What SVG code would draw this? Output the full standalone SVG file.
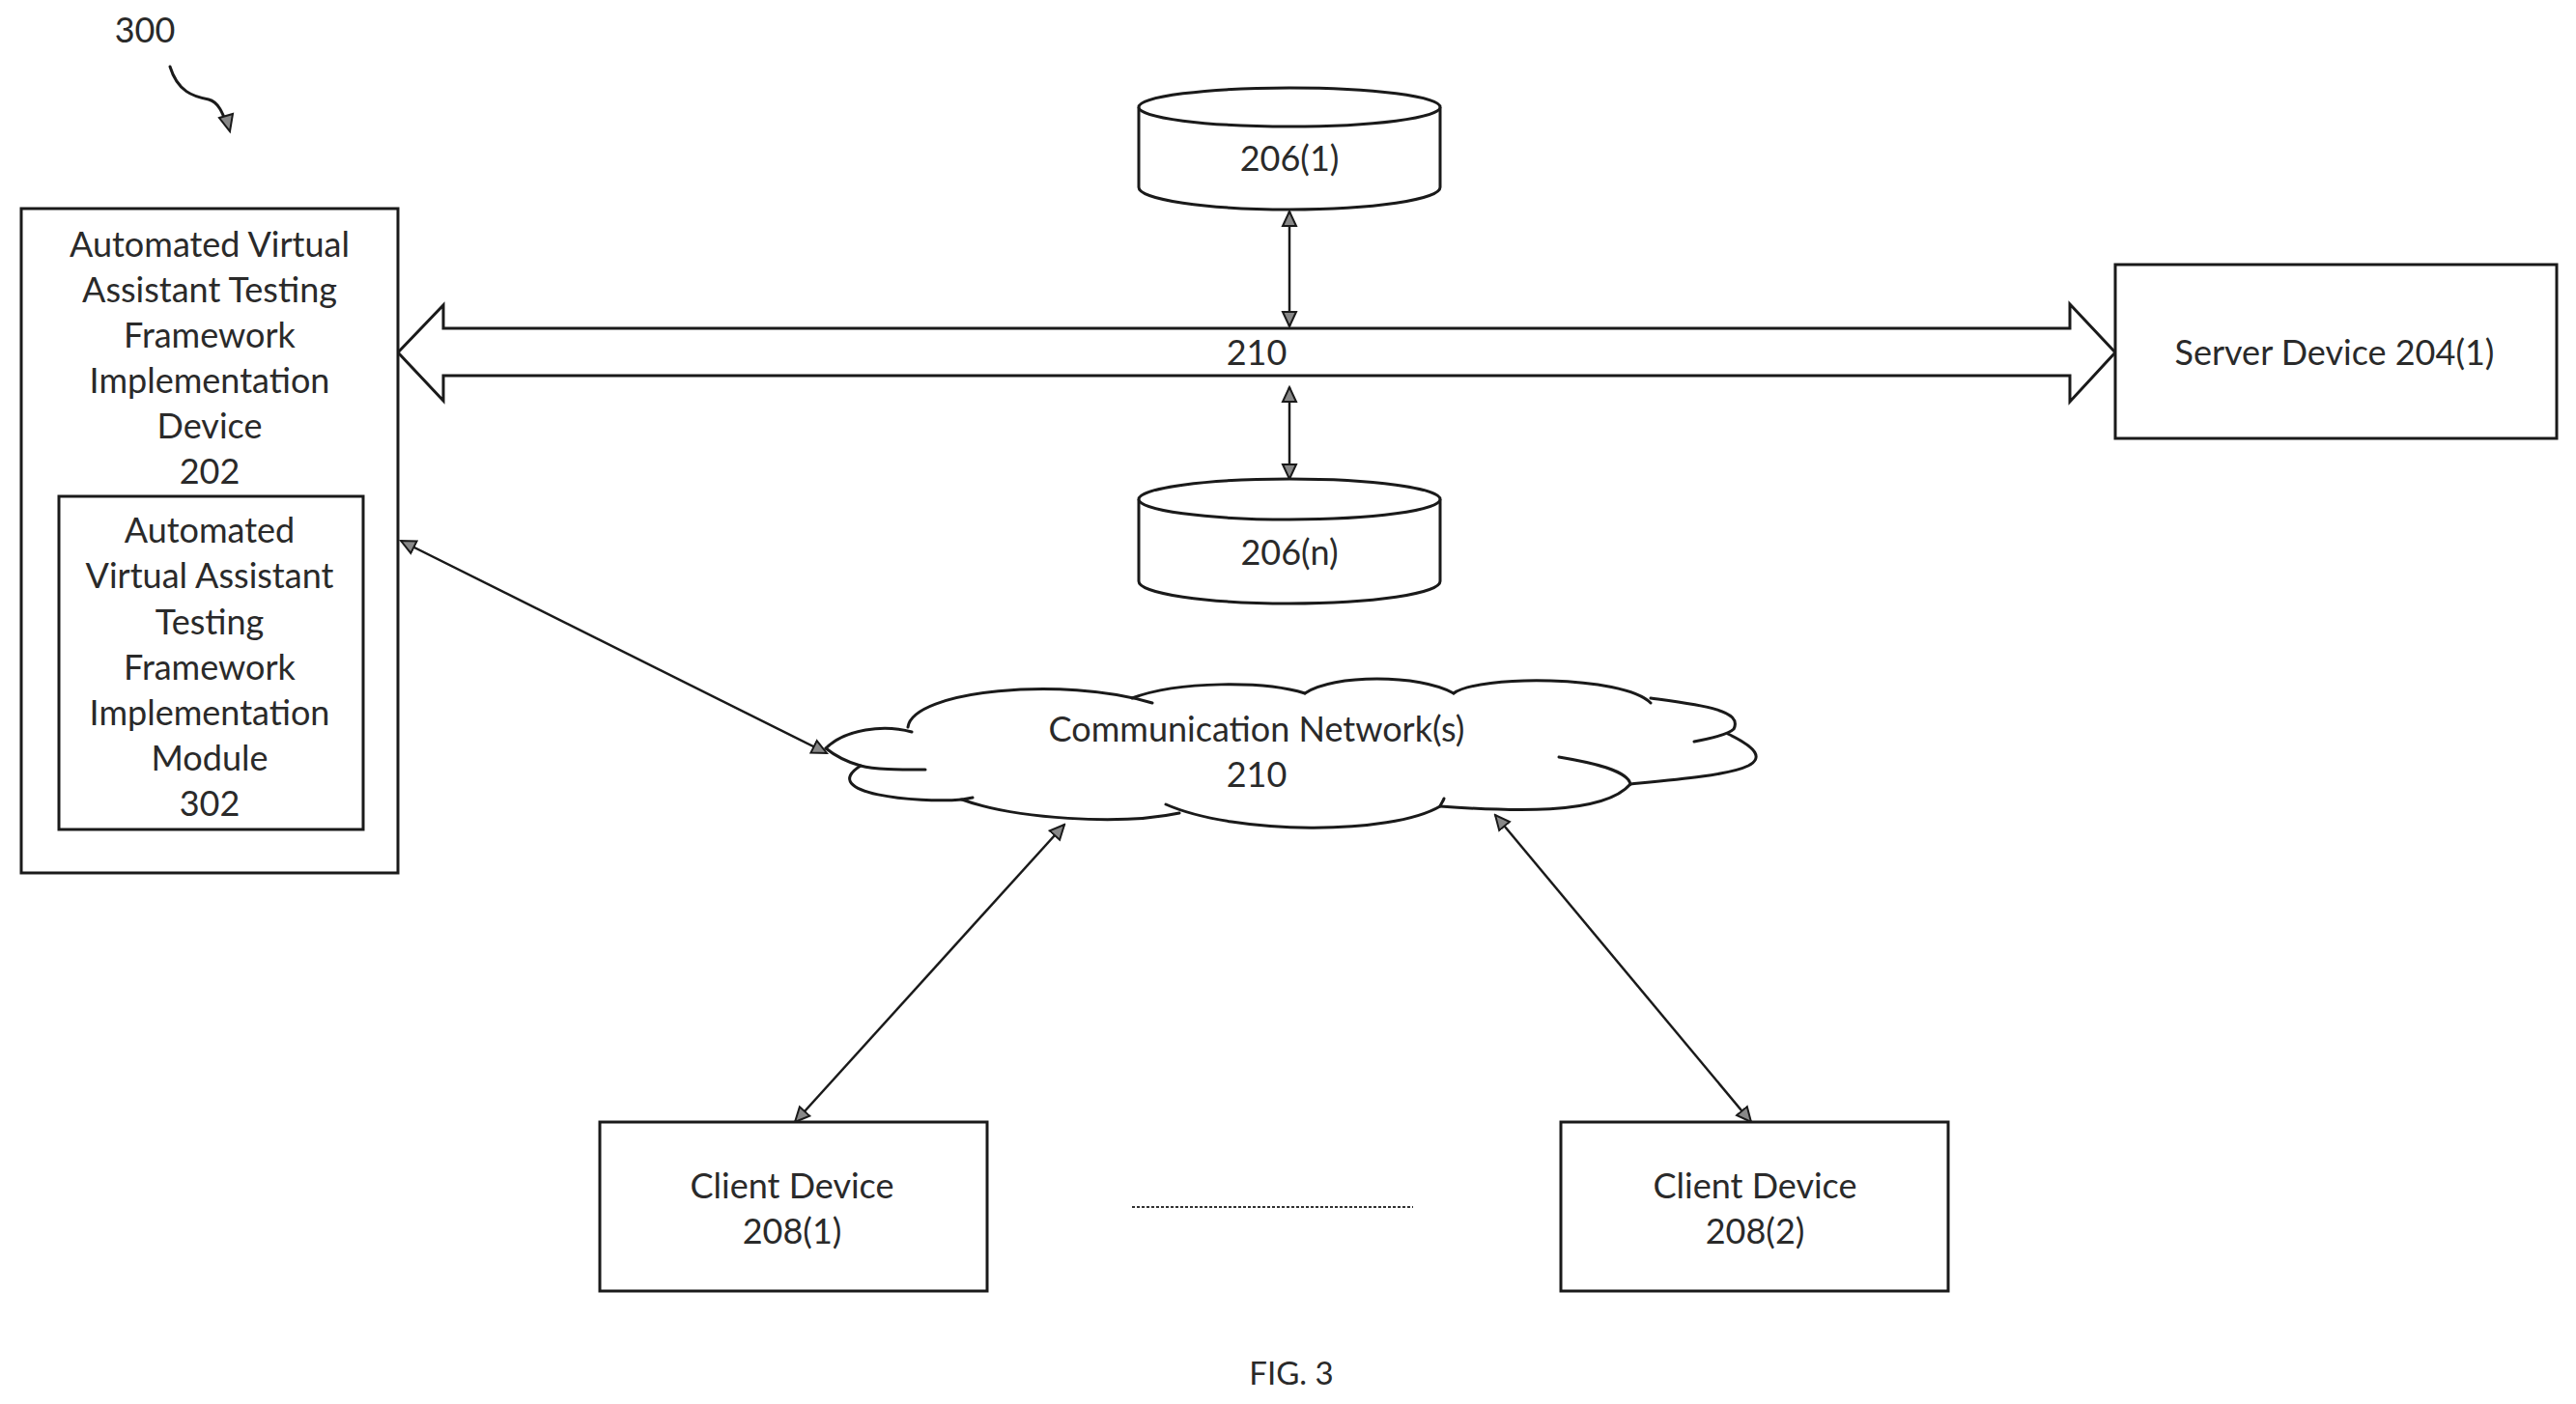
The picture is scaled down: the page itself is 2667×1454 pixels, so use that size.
<svg xmlns="http://www.w3.org/2000/svg" width="2667" height="1454" viewBox="0 0 2667 1454">
<style>
.s{fill:#fff;stroke:#1a1a1a;stroke-width:3}
.o{fill:none;stroke:#1a1a1a;stroke-width:3;stroke-linecap:round}
.c{fill:none;stroke:#1a1a1a;stroke-width:2.5;marker-start:url(#a);marker-end:url(#a)}
text{font-family:Lato,"Liberation Sans",sans-serif;font-size:36px;fill:#2a2a2a;text-anchor:middle}
</style>
<defs>
<marker id="a" markerUnits="userSpaceOnUse" markerWidth="18" markerHeight="20" refX="16" refY="9" orient="auto-start-reverse" viewBox="0 0 18 18"><path d="M16 9L1 2V16Z" fill="#888" stroke="#1a1a1a" stroke-width="2"/></marker>
</defs>
<rect width="2667" height="1454" fill="#fff"/>
<g id="label-300">
<text x="150" y="44">300</text>
<path class="o" d="M176 69C184 95 200 100 216 103C228 106 232 122 236 132"/>
<path d="M227 122L241 118L238 136Z" fill="#888" stroke="#1a1a1a" stroke-width="2"/>
</g>
<g id="connectors">
<path id="bus" class="s" d="M412 365L459 316V340H2143V315L2190 365L2143 416V389H459V415Z"/>
<line class="c" x1="1335" y1="219" x2="1335" y2="338"/>
<line class="c" x1="1335" y1="401" x2="1335" y2="496"/>
<line class="c" x1="415" y1="560" x2="856" y2="780"/>
<line class="c" x1="1102" y1="854" x2="823" y2="1162"/>
<line class="c" x1="1548" y1="844" x2="1813" y2="1162"/>
<line x1="1172" y1="1250" x2="1463" y2="1250" stroke="#333" stroke-width="2" stroke-dasharray="3 2"/>
</g>
<g id="bus-label"><text x="1301" y="378">210</text></g>
<g id="device-202">
<rect class="s" x="22" y="216" width="390" height="688"/>
<text x="217" y="266">Automated Virtual</text>
<text x="217" y="313">Assistant Testing</text>
<text x="217" y="360">Framework</text>
<text x="217" y="407">Implementation</text>
<text x="217" y="454">Device</text>
<text x="217" y="501">202</text>
</g>
<g id="module-302">
<rect class="s" x="61" y="514" width="315" height="345"/>
<text x="217" y="562">Automated</text>
<text x="217" y="609">Virtual Assistant</text>
<text x="217" y="657">Testing</text>
<text x="217" y="704">Framework</text>
<text x="217" y="751">Implementation</text>
<text x="217" y="798">Module</text>
<text x="217" y="845">302</text>
</g>
<g id="server-204">
<rect class="s" x="2190" y="274" width="457" height="180"/>
<text x="2417" y="378">Server Device 204(1)</text>
</g>
<g id="db-206-1">
<path class="s" d="M1179 111V194A156 23 0 0 0 1491 194V111"/>
<ellipse class="s" cx="1335" cy="111" rx="156" ry="20"/>
<text x="1335" y="177">206(1)</text>
</g>
<g id="db-206-n">
<path class="s" d="M1179 517V602A156 23 0 0 0 1491 602V517"/>
<ellipse class="s" cx="1335" cy="517" rx="156" ry="21"/>
<text x="1335" y="585">206(n)</text>
</g>
<g id="cloud">
<path d="M855 775C880 745 920 750 940 753C960 720 1080 705 1172 723C1230 700 1300 700 1351 718C1400 695 1460 695 1505 718C1560 699 1680 699 1709 728C1760 730 1800 735 1795 758C1820 770 1830 785 1810 795C1780 805 1730 810 1688 812C1660 840 1560 845 1491 835C1440 865 1280 865 1221 842C1160 855 1050 848 996 828C950 832 845 822 891 793C875 790 860 785 855 775Z" fill="#fff" stroke="none"/>
<path class="o" d="M855 775C875 755 915 750 944 758"/>
<path class="o" d="M940 753C945 715 1100 700 1193 728"/>
<path class="o" d="M1172 723C1220 705 1310 705 1351 718"/>
<path class="o" d="M1351 718C1380 698 1470 698 1505 718"/>
<path class="o" d="M1505 718C1530 699 1680 699 1709 728"/>
<path class="o" d="M1709 723C1760 730 1805 735 1795 755C1790 760 1770 765 1754 768"/>
<path class="o" d="M1789 760C1820 775 1825 785 1810 793C1790 803 1730 808 1688 812"/>
<path class="o" d="M1688 812C1685 798 1650 790 1614 784"/>
<path class="o" d="M1688 812C1660 845 1560 840 1491 835C1492 832 1494 830 1495 827"/>
<path class="o" d="M1491 835C1440 865 1280 865 1207 833"/>
<path class="o" d="M1221 842C1160 855 1050 848 996 828L1007 826"/>
<path class="o" d="M996 828C950 832 845 822 891 793C905 797 930 797 958 797"/>
<path class="o" d="M855 775C865 783 880 790 891 793"/>
<text x="1301" y="768">Communication Network(s)</text>
<text x="1301" y="815">210</text>
</g>
<g id="client-208-1">
<rect class="s" x="621" y="1162" width="401" height="175"/>
<text x="820" y="1241">Client Device</text>
<text x="820" y="1288">208(1)</text>
</g>
<g id="client-208-2">
<rect class="s" x="1616" y="1162" width="401" height="175"/>
<text x="1817" y="1241">Client Device</text>
<text x="1817" y="1288">208(2)</text>
</g>
<g id="figure-label"><text x="1337" y="1434" style="font-size:33px">FIG. 3</text></g>
</svg>
